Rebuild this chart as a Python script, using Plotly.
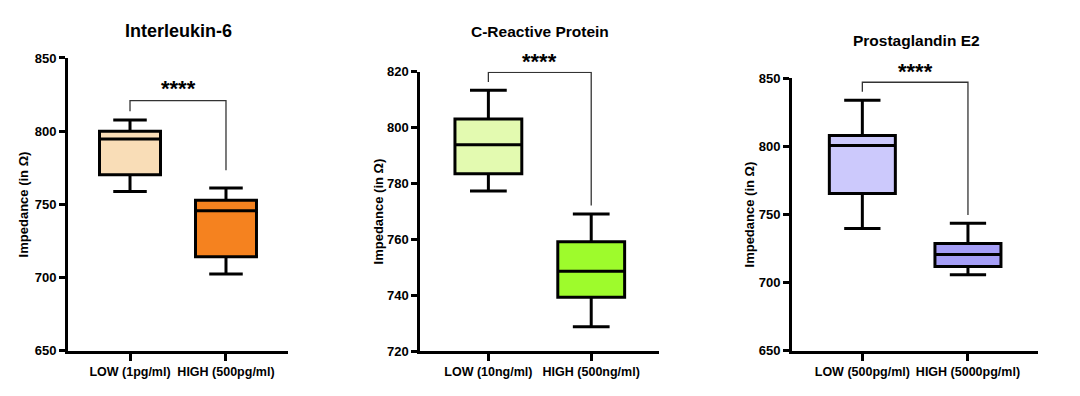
import plotly.graph_objects as go

# ---------------- data ----------------
titles = ["Interleukin-6", "C-Reactive Protein", "Prostaglandin E2"]
categories = [
    ["LOW (1pg/ml)", "HIGH (500pg/ml)"],
    ["LOW (10ng/ml)", "HIGH (500ng/ml)"],
    ["LOW (500pg/ml)", "HIGH (5000pg/ml)"],
]
lower_whisker = [[758.8, 702.4], [777.3, 728.7], [739.8, 705.7]]
q1_values = [[770.2, 714.3], [783.5, 739.3], [765.4, 711.8]]
median_values = [[794.7, 745.7], [793.9, 748.6], [800.6, 720.7]]
q3_values = [[800.0, 752.9], [803.1, 759.2], [808.0, 728.7]]
upper_whisker = [[807.7, 761.2], [813.4, 769.1], [833.8, 743.5]]
# significance bracket: [left leg end, top, right leg end]
bracket_y = [[813.6, 820.8, 773.3], [816.3, 819.8, 772.1], [840.1, 847.0, 749.7]]
significance = ["****", "****", "****"]
y_ranges = [[650, 850], [720, 820], [650, 850]]
y_ticks = [[650, 700, 750, 800, 850], [720, 740, 760, 780, 800, 820], [650, 700, 750, 800, 850]]
y_title = "Impedance (in Ω)"

# ---------------- styling ----------------
fills = [["#F9DDB7", "#F5821F"], ["#E3FAB0", "#9EFB2C"], ["#CCC9FC", "#A59EF6"]]
SCREEN_W, SCREEN_H = 1080, 396
OFF = 8  # page body margin
W, H = SCREEN_W - OFF, SCREEN_H - OFF


def px_x(x):
    return (x - OFF) / W


def px_y(y):
    return 1 - (y - OFF) / H


# screen pixel geometry of each panel: (x_left, x_right, y_bottom_px, y_top_px)
panels_px = [(68, 288, 357.3, 52.7), (420.3, 659.3, 357.7, 67.0), (792, 1038.3, 357.3, 73.7)]
cat_margin = [0.646, 0.662, 0.666]
box_widths = [0.635, 0.65, 0.625]
title_pos = [(178, 25, 18), (540, 25, 15.5), (916, 35, 15.5)]
ytitle_x = [23, 378, 749]
star_px = [(178, 86), (539.5, 57.3), (915.5, 67.7)]

FONT = "Arial, Liberation Sans, sans-serif"

fig = go.Figure()
annotations = []
for i in range(3):
    xs = "" if i == 0 else str(i + 1)
    xl, xr, yb, yt = panels_px[i]
    for j in range(2):
        fig.add_trace(go.Box(
            x=[categories[i][j]],
            q1=[q1_values[i][j]], median=[median_values[i][j]], q3=[q3_values[i][j]],
            lowerfence=[lower_whisker[i][j]], upperfence=[upper_whisker[i][j]],
            width=box_widths[i], whiskerwidth=0.55,
            fillcolor=fills[i][j], line=dict(color="black", width=3),
            boxpoints=False, showlegend=False, hoverinfo="skip",
            xaxis="x" + xs, yaxis="y" + xs,
        ))
    by = bracket_y[i]
    fig.add_trace(go.Scatter(
        x=[categories[i][0], categories[i][0], categories[i][1], categories[i][1]],
        y=[by[0], by[1], by[1], by[2]],
        mode="lines", line=dict(color="#333333", width=1.3),
        showlegend=False, hoverinfo="skip", xaxis="x" + xs, yaxis="y" + xs,
        cliponaxis=False,
    ))
    sx, sy = star_px[i]
    annotations.append(dict(
        x=px_x(sx), y=px_y(sy), xref="paper", yref="paper", text="<b>" + significance[i] + "</b>",
        showarrow=False, xanchor="center", yanchor="middle", yshift=1,
        font=dict(family=FONT, size=22, color="black"),
    ))
    tx, ty, ts = title_pos[i]
    annotations.append(dict(
        x=px_x(tx), y=px_y(ty), xref="paper", yref="paper", text="<b>" + titles[i] + "</b>",
        showarrow=False, xanchor="center", yanchor="middle",
        font=dict(family=FONT, size=ts, color="black"),
    ))
    annotations.append(dict(
        x=px_x(ytitle_x[i]), y=px_y((yb + yt) / 2), xref="paper", yref="paper",
        text="<b>" + y_title + "</b>", textangle=-90, showarrow=False,
        xanchor="center", yanchor="middle",
        font=dict(family=FONT, size=13, color="black"),
    ))
    m = cat_margin[i]
    fig.layout["xaxis" + xs] = dict(
        domain=[px_x(xl), px_x(xr)], anchor="y" + xs, type="category",
        range=[-m, 1 + m], showline=True, linewidth=3, linecolor="black",
        ticks="outside", ticklen=7, tickwidth=2.5, tickcolor="black",
        showgrid=False, zeroline=False, fixedrange=True,
        tickfont=dict(family=FONT, size=12.5, color="black", weight="bold"),
    )
    fig.layout["yaxis" + xs] = dict(
        domain=[px_y(yb), px_y(yt)], anchor="x" + xs,
        range=y_ranges[i], tickvals=y_ticks[i], showline=True, linewidth=3, linecolor="black",
        ticks="outside", ticklen=6, tickwidth=2.5, tickcolor="black",
        showgrid=False, zeroline=False, fixedrange=True,
        tickfont=dict(family=FONT, size=13, color="black", weight="bold"),
    )

fig.update_layout(
    width=W, height=H, margin=dict(l=0, r=0, t=0, b=0),
    paper_bgcolor="white", plot_bgcolor="white",
    annotations=annotations, showlegend=False,
)
fig.write_html("out.html", config={"displayModeBar": False})
